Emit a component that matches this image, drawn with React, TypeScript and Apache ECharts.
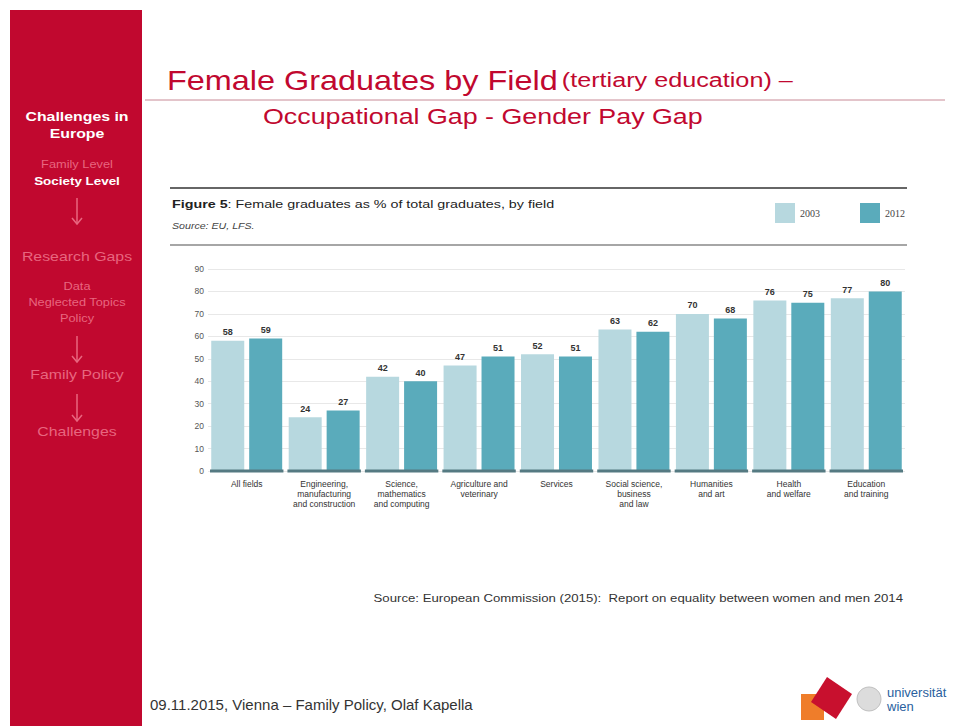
import React, { useEffect, useRef } from "react";
import * as echarts from "echarts";

const categories = [
  "All fields",
  "Engineering,\nmanufacturing\nand construction",
  "Science,\nmathematics\nand computing",
  "Agriculture and\nveterinary",
  "Services",
  "Social science,\nbusiness\nand law",
  "Humanities\nand art",
  "Health\nand welfare",
  "Education\nand training",
];
const values2003 = [58, 24, 42, 47, 52, 63, 70, 76, 77];
const values2012 = [59, 27, 40, 51, 51, 62, 68, 75, 80];
const seriesNames = ["2003", "2012"];
const yTicks = { min: 0, max: 90, interval: 10 };

const RED = "#c1082f";
const FADED = "#e8667f";
const LIGHT = "#b7d8df";
const DARK = "#5aabbb";
const SANS = "'Liberation Sans', Arial, sans-serif";
const NARROW = "'Liberation Sans Narrow', 'Liberation Sans', sans-serif";

export default function App() {
  const ref = useRef<HTMLDivElement>(null);
  useEffect(() => {
    if (!ref.current) return;
    const chart = echarts.init(ref.current, null, { renderer: "svg" });
    const sideText = (text: string, y: number, size: number, color: string, bold = false) => ({
      type: "text",
      x: 77,
      y,
      scaleX: 1.22,
      style: {
        text,
        fill: color,
        font: `${bold ? "bold " : ""}${size}px ${SANS}`,
        textAlign: "center",
        textVerticalAlign: "middle",
      },
    });
    const arrow = (y0: number, y1: number) => [
      { type: "line", shape: { x1: 77, y1: y0, x2: 77, y2: y1 }, style: { stroke: FADED, lineWidth: 1.5 } },
      { type: "polyline", shape: { points: [[72, y1 - 6], [77, y1], [82, y1 - 6]] }, style: { stroke: FADED, fill: "none", lineWidth: 1.5 } },
    ];
    const option: any = {
      animation: false,
      backgroundColor: "#ffffff",
      textStyle: { fontFamily: NARROW },
      grid: { left: 208, right: 52, top: 269, bottom: 255, containLabel: false },
      legend: {
        data: seriesNames,
        left: 770,
        top: 198,
        itemWidth: 20,
        itemHeight: 20,
        itemGap: 40,
        icon: "rect",
        textStyle: { fontSize: 10, color: "#444", fontFamily: "'Liberation Serif', serif" },
      },
      xAxis: {
        type: "category",
        data: categories,
        axisLine: { show: false },
        axisTick: { show: false },
        axisLabel: {
          interval: 0,
          fontSize: 8.5,
          lineHeight: 10,
          color: "#333",
          margin: 8,
          fontFamily: NARROW,
        },
      },
      yAxis: {
        type: "value",
        min: yTicks.min,
        max: yTicks.max,
        interval: yTicks.interval,
        axisLine: { show: false },
        axisTick: { show: false },
        axisLabel: { fontSize: 8.5, color: "#555", margin: 4 },
        splitLine: { lineStyle: { color: "#e8e8e8", width: 1 } },
      },
      series: [
        {
          name: seriesNames[0],
          type: "bar",
          data: values2003,
          barWidth: 33,
          barGap: "15%",
          itemStyle: { color: LIGHT },
          label: { show: true, position: "top", fontSize: 9, color: "#333", distance: 4, fontWeight: "bold" },
        },
        {
          name: seriesNames[1],
          type: "bar",
          data: values2012,
          barWidth: 33,
          barGap: "15%",
          itemStyle: { color: DARK },
          label: { show: true, position: "top", fontSize: 9, color: "#333", distance: 4, fontWeight: "bold" },
        },
        {
          type: "custom",
          silent: true,
          z: 5,
          data: categories.map((_, i) => [i, 0]),
          renderItem: (params: any, api: any) => {
            const p = api.coord([api.value(0), 0]);
            const bw = api.size([1, 0])[0];
            return {
              type: "rect",
              shape: { x: p[0] - bw / 2 + 2, y: p[1] - 1.5, width: bw - 4, height: 3 },
              style: { fill: "#557a82" },
            };
          },
        },
      ],
      graphic: [
        { type: "rect", shape: { x: 10, y: 10, width: 132, height: 716 }, style: { fill: RED } },
        sideText("Challenges in", 117, 13, "#ffffff", true),
        sideText("Europe", 134, 13, "#ffffff", true),
        sideText("Family Level", 164, 10.5, FADED),
        sideText("Society Level", 181, 11, "#ffffff", true),
        ...arrow(198, 224),
        sideText("Research Gaps", 257, 13, FADED),
        sideText("Data", 286, 10.5, FADED),
        sideText("Neglected Topics", 302, 10.5, FADED),
        sideText("Policy", 318, 10.5, FADED),
        ...arrow(336, 362),
        sideText("Family Policy", 375, 13, FADED),
        ...arrow(394, 421),
        sideText("Challenges", 432, 13, FADED),
        {
          type: "text",
          x: 167,
          y: 80,
          scaleX: 1.2,
          style: {
            rich: {
              a: { fontSize: 27, fill: RED, fontFamily: SANS },
              b: { fontSize: 21, fill: RED, fontFamily: NARROW },
            },
            text: "{a|Female Graduates by Field} {b|(tertiary education) –}",
            textVerticalAlign: "middle",
          },
        },
        { type: "line", shape: { x1: 145, y1: 100, x2: 945, y2: 100 }, style: { stroke: "#c88a96", lineWidth: 1 } },
        {
          type: "text",
          x: 263,
          y: 116,
          scaleX: 1.22,
          style: { text: "Occupational Gap - Gender Pay Gap", fill: RED, font: `22px ${SANS}`, textVerticalAlign: "middle" },
        },
        { type: "line", shape: { x1: 170, y1: 188, x2: 907, y2: 188 }, style: { stroke: "#666", lineWidth: 2 } },
        { type: "line", shape: { x1: 170, y1: 245, x2: 907, y2: 245 }, style: { stroke: "#888", lineWidth: 1.5 } },
        {
          type: "text",
          x: 172,
          y: 204,
          scaleX: 1.3,
          style: {
            rich: {
              a: { fontSize: 11, fontWeight: "bold", fill: "#222", fontFamily: NARROW },
              b: { fontSize: 11, fill: "#222", fontFamily: NARROW },
            },
            text: "{a|Figure 5}{b|: Female graduates as % of total graduates, by field}",
            textVerticalAlign: "middle",
          },
        },
        {
          type: "text",
          x: 172,
          y: 226,
          scaleX: 1.25,
          style: { text: "Source: EU, LFS.", fill: "#444", font: `italic 8.5px ${NARROW}`, textVerticalAlign: "middle" },
        },
        {
          type: "text",
          x: 903,
          y: 598,
          scaleX: 1.2,
          style: {
            text: "Source: European Commission (2015):  Report on equality between women and men 2014",
            fill: "#333",
            font: `11px ${NARROW}`,
            textAlign: "right",
            textVerticalAlign: "middle",
          },
        },
        {
          type: "text",
          x: 150,
          y: 704,
          style: { text: "09.11.2015, Vienna – Family Policy, Olaf Kapella", fill: "#333", font: `15px ${NARROW}`, textVerticalAlign: "middle" },
        },
        { type: "rect", shape: { x: 801, y: 694, width: 23, height: 26 }, style: { fill: "#ef7d2a" } },
        { type: "polygon", shape: { points: [[827, 677], [852, 694], [836, 719], [811, 702]] }, style: { fill: "#c8102e" } },
        { type: "circle", shape: { cx: 869, cy: 699, r: 12 }, style: { fill: "#dcdcdc", stroke: "#c0c0c0", lineWidth: 1 } },
        {
          type: "text",
          x: 887,
          y: 692,
          style: { text: "universität", fill: "#2a5f9e", font: `13px ${SANS}`, textVerticalAlign: "middle" },
        },
        {
          type: "text",
          x: 887,
          y: 706,
          style: { text: "wien", fill: "#2a5f9e", font: `13px ${SANS}`, textVerticalAlign: "middle" },
        },
      ],
    };
    chart.setOption(option);
    return () => chart.dispose();
  }, []);
  return (
    <div
      ref={ref}
      style={{ position: "fixed", left: 0, top: 0, width: 957, height: 726 }}
    />
  );
}
